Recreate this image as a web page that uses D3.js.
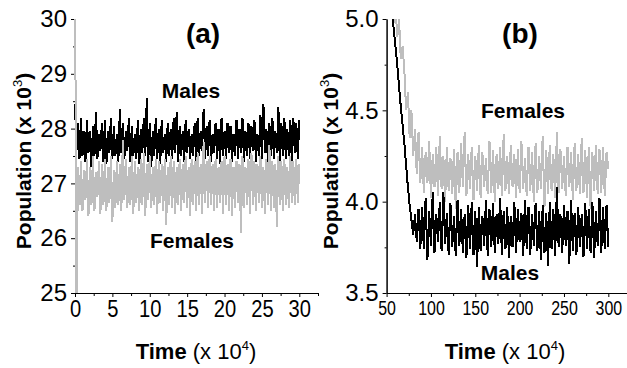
<!DOCTYPE html>
<html>
<head>
<meta charset="utf-8">
<script src="https://cdn.jsdelivr.net/npm/d3@7"></script>
<style>
  body { margin: 0; background: #fff; }
  text { font-family: "Liberation Sans", Arial, sans-serif; }
</style>
</head>
<body>
<div id="chart"></div>
<script>
// panel (a): time 0..30 (x 10^4), one sample every 0.2
var timeA = { start: 0, step: 0.2 };
var malesA = [
  28.45, 27.6, 28.1, 27.45, 28.2, 27.5, 27.95, 27.4, 28.15, 27.55,
  27.95, 27.3, 28.05, 27.5, 28.3, 27.45, 27.9, 27.6, 28.1, 27.4,
  28.15, 27.35, 27.95, 27.55, 28.2, 27.45, 28.05, 27.5, 27.9, 27.4,
  28.35, 27.55, 28.1, 27.45, 27.95, 27.6, 28.2, 27.4, 28.05, 27.5,
  27.9, 27.45, 28.15, 27.35, 28.0, 27.55, 28.2, 27.5, 28.55, 27.4,
  28.1, 27.3, 27.95, 27.5, 28.2, 27.45, 28.0, 27.35, 28.15, 27.55,
  27.9, 27.4, 28.1, 27.5, 28.0, 27.45, 28.2, 27.55, 28.3, 27.4,
  28.05, 27.5, 27.95, 27.4, 28.15, 27.55, 28.0, 27.45, 27.9, 27.5,
  28.1, 27.35, 28.2, 27.5, 27.95, 27.6, 28.35, 27.45, 28.05, 27.5,
  28.15, 27.4, 27.9, 27.55, 28.1, 27.45, 28.0, 27.35, 28.2, 27.5,
  27.95, 27.45, 28.1, 27.55, 28.05, 27.4, 27.9, 27.5, 28.15, 27.45,
  28.0, 27.55, 28.2, 27.4, 27.95, 27.5, 28.1, 27.45, 28.05, 27.6,
  28.15, 27.4, 27.9, 27.5, 28.25, 27.45, 28.45, 27.55, 28.0, 27.4,
  28.1, 27.5, 28.2, 27.45, 27.95, 27.55, 28.4, 27.35, 28.1, 27.5,
  28.2, 27.45, 28.0, 27.5, 28.15, 27.4, 28.2, 27.55, 28.1, 27.45,
  28.15
];
var femalesA = [
  31.0, 24.8, 27.3, 26.6, 27.4, 26.5, 27.25, 26.7, 27.45, 26.4,
  27.3, 26.6, 27.5, 26.5, 27.2, 26.75, 27.4, 26.45, 27.35, 26.6,
  27.45, 26.5, 27.3, 26.65, 27.5, 26.3, 27.25, 26.55, 27.4, 26.6,
  27.35, 26.5, 27.8, 26.7, 27.45, 26.55, 27.3, 26.6, 27.5, 26.45,
  27.4, 26.65, 27.3, 26.5, 27.45, 26.6, 27.55, 26.4, 27.35, 26.7,
  27.5, 26.55, 27.3, 26.6, 27.45, 26.45, 27.4, 26.65, 27.35, 26.5,
  27.45, 26.25, 27.3, 26.6, 27.5, 26.55, 27.4, 26.45, 27.3, 26.6,
  27.45, 26.5, 27.35, 26.65, 27.5, 26.55, 27.3, 26.4, 27.45, 26.6,
  27.4, 26.5, 27.55, 26.6, 27.35, 26.45, 27.75, 26.65, 27.4, 26.55,
  27.5, 26.6, 27.35, 26.5, 27.45, 26.55, 27.3, 26.65, 27.4, 26.45,
  27.5, 26.6, 27.35, 26.5, 27.45, 26.4, 27.3, 26.55, 27.4, 26.65,
  27.35, 26.1, 27.5, 26.55, 27.3, 26.6, 27.45, 26.45, 27.55, 26.6,
  27.4, 26.5, 27.35, 26.65, 27.5, 26.55, 27.3, 26.45, 27.45, 26.6,
  27.7, 26.5, 27.4, 26.55, 27.35, 26.2, 27.5, 26.6, 27.4, 26.5,
  27.45, 26.6, 27.3, 26.55, 27.5, 26.65, 27.4, 26.6, 27.45, 26.65,
  27.35
];

// panel (b): time 50..300 (x 10^4), one sample every 2
var timeB = { start: 50, step: 2 };
var malesB = [
  5.3, 5.2, 5.1, 5.03, 4.95, 4.85, 4.75, 4.63, 4.52, 4.42,
  4.32, 4.2, 4.08, 3.98, 3.9, 3.82, 3.93, 3.78, 3.96, 3.74,
  3.97, 3.74, 4.02, 3.68, 3.95, 3.76, 4.05, 3.72, 3.93, 3.78,
  4.0, 3.73, 4.05, 3.77, 3.94, 3.71, 3.99, 3.75, 3.92, 3.7,
  4.01, 3.76, 3.96, 3.72, 3.93, 3.69, 3.98, 3.74, 4.0, 3.71,
  3.95, 3.64, 3.97, 3.73, 3.92, 3.76, 4.01, 3.7, 3.96, 3.75,
  3.99, 3.72, 3.93, 3.77, 4.02, 3.71, 3.95, 3.74, 3.97, 3.69,
  3.92, 3.75, 4.0, 3.72, 3.96, 3.78, 3.94, 3.7, 4.01, 3.74,
  3.97, 3.71, 3.93, 3.76, 3.99, 3.73, 3.95, 3.68, 3.98, 3.72,
  3.94, 3.65, 4.0, 3.74, 3.96, 3.7, 4.08, 3.75, 3.93, 3.72,
  3.98, 3.76, 3.95, 3.66, 4.01, 3.73, 3.94, 3.71, 3.97, 3.75,
  3.93, 3.7, 3.99, 3.74, 3.96, 3.72, 4.0, 3.69, 3.95, 3.76,
  4.02, 3.72, 3.97, 3.74, 3.98, 3.75
];
var femalesB = [
  5.4, 5.3, 5.2, 5.1, 4.98, 5.08, 4.9, 5.0, 4.78, 4.85,
  4.72, 4.5, 4.6, 4.35, 4.5, 4.25, 4.4, 4.15, 4.38, 4.1,
  4.3, 4.05, 4.27, 4.1, 4.33, 4.02, 4.26, 4.08, 4.3, 4.03,
  4.36, 4.07, 4.25, 4.0, 4.3, 4.06, 4.24, 4.04, 4.29, 3.96,
  4.27, 4.05, 4.32, 4.08, 4.38, 4.03, 4.26, 4.07, 4.3, 4.01,
  4.25, 4.06, 4.31, 4.02, 4.27, 4.08, 4.24, 4.04, 4.33, 4.05,
  4.28, 4.0, 4.26, 4.07, 4.3, 4.03, 4.37, 4.06, 4.25, 4.04,
  4.31, 4.08, 4.26, 4.02, 4.29, 4.05, 4.33, 4.07, 4.24, 4.03,
  4.3, 4.06, 4.27, 4.0, 4.32, 4.05, 4.25, 4.07, 4.36, 3.97,
  4.28, 4.04, 4.31, 4.06, 4.26, 4.02, 4.38, 4.05, 4.29, 4.07,
  4.25, 4.03, 4.3, 4.08, 4.27, 4.01, 4.32, 4.06, 4.26, 4.04,
  4.35, 4.05, 4.28, 4.02, 4.3, 3.96, 4.27, 4.06, 4.31, 4.04,
  4.29, 4.05, 4.3, 4.03, 4.27, 4.18
];

// tick values
var yMajorA = [25, 26, 27, 28, 29, 30];
var yMinorA = [25.5, 26.5, 27.5, 28.5, 29.5];
var xMajorA = [0, 5, 10, 15, 20, 25, 30];
var xMinorA = [2.5, 7.5, 12.5, 17.5, 22.5, 27.5, 32.5];
var yMajorB = [3.5, 4.0, 4.5, 5.0];
var yMinorB = [3.75, 4.25, 4.75];
var xMajorB = [50, 100, 150, 200, 250, 300];
var xMinorB = [75, 125, 175, 225, 275];

var BLACK = "#000", GRAY = "#bebebe";

var svg = d3.select("#chart").append("svg")
  .attr("width", 627)
  .attr("height", 368);

function drawPanel(cfg) {
  var x = d3.scaleLinear().domain(cfg.xDomain).range(cfg.xRange);
  var y = d3.scaleLinear().domain(cfg.yDomain).range([293, 19]);
  var g = svg.append("g");

  // axes first, the data lines are drawn on top of them
  var yAx = g.append("g").attr("transform", "translate(" + cfg.xRange[0] + ",0)")
    .call(d3.axisLeft(y).tickValues(cfg.yMajor).tickFormat(d3.format(cfg.yFormat))
      .tickSize(4).tickSizeOuter(0).tickPadding(4));
  g.append("g").attr("transform", "translate(" + cfg.xRange[0] + ",0)")
    .call(d3.axisLeft(y).tickValues(cfg.yMinor).tickFormat("").tickSize(2).tickSizeOuter(0));
  yAx.selectAll("text").style("font-size", "24px").attr("fill", "#000");

  var xAx = g.append("g").attr("transform", "translate(0,293)")
    .call(d3.axisBottom(x).tickValues(cfg.xMajor).tickSize(4).tickSizeOuter(0).tickPadding(3));
  g.append("g").attr("transform", "translate(0,293)")
    .call(d3.axisBottom(x).tickValues(cfg.xMinor).tickFormat("").tickSize(3).tickSizeOuter(0));
  xAx.selectAll("text").style("font-size", cfg.xFont + "px").attr("fill", "#000")
    .attr("transform", "scale(" + cfg.xSqueeze + ",1)");
  g.selectAll(".domain, .tick line").attr("stroke", "#000").attr("stroke-width", 1);

  var clipId = "clip-" + cfg.id;
  svg.append("clipPath").attr("id", clipId).append("rect")
    .attr("x", cfg.xRange[0] - 1).attr("y", 19)
    .attr("width", cfg.xRange[1] - cfg.xRange[0] + 1).attr("height", 274);

  var line = d3.line()
    .x(function(d) { return x(d[0]); })
    .y(function(d) { return y(d[1]); });

  cfg.series.forEach(function(s) {
    var pts = s.values.map(function(v, i) { return [cfg.time.start + i * cfg.time.step, v]; });
    g.append("path")
      .attr("clip-path", "url(#" + clipId + ")")
      .attr("d", line(pts))
      .attr("fill", "none")
      .attr("stroke", s.color)
      .attr("stroke-width", 2)
      .attr("stroke-linejoin", "bevel")
      .attr("shape-rendering", "crispEdges");
  });

  // y title
  var yt = g.append("text")
    .attr("transform", "translate(" + cfg.yTitleX + ",161) rotate(-90)")
    .attr("text-anchor", "middle")
    .style("font-size", "21px").style("font-weight", "bold");
  yt.append("tspan").text("Population (x 10");
  yt.append("tspan").text("3").style("font-size", "13px").style("font-weight", "normal").attr("dy", -9);
  yt.append("tspan").text(")").attr("dy", 9);

  // x title
  var xt = g.append("text")
    .attr("x", cfg.xTitleX).attr("y", 359)
    .attr("text-anchor", "middle")
    .style("font-size", "22px");
  xt.append("tspan").text("Time").style("font-weight", "bold");
  xt.append("tspan").text(" (x 10");
  xt.append("tspan").text("4").style("font-size", "13px").attr("dy", -9);
  xt.append("tspan").text(")").attr("dy", 9);

  // panel letter
  g.append("text").attr("x", cfg.letterX).attr("y", 43)
    .attr("text-anchor", "middle")
    .style("font-size", "28px").style("font-weight", "bold")
    .text(cfg.letter);

  cfg.labels.forEach(function(l) {
    g.append("text").attr("x", l.x).attr("y", l.y)
      .attr("text-anchor", "middle")
      .style("font-size", "21px").style("font-weight", "bold")
      .text(l.text);
  });
}

drawPanel({
  id: "a",
  xDomain: [0, 32.5], xRange: [75, 318],
  yDomain: [25, 30], yFormat: "d",
  yMajor: yMajorA, yMinor: yMinorA, xMajor: xMajorA, xMinor: xMinorA,
  xFont: 24, xSqueeze: 0.84,
  time: timeA,
  series: [{ values: malesA, color: BLACK }, { values: femalesA, color: GRAY }],
  yTitleX: 31, xTitleX: 196,
  letter: "(a)", letterX: 203,
  labels: [{ text: "Males", x: 191, y: 98 }, { text: "Females", x: 192, y: 248 }]
});

drawPanel({
  id: "b",
  xDomain: [50, 325], xRange: [386.6, 630.5],
  yDomain: [3.5, 5.0], yFormat: ".1f",
  yMajor: yMajorB, yMinor: yMinorB, xMajor: xMajorB, xMinor: xMinorB,
  xFont: 21, xSqueeze: 0.76,
  time: timeB,
  series: [{ values: femalesB, color: GRAY }, { values: malesB, color: BLACK }],
  yTitleX: 338, xTitleX: 505,
  letter: "(b)", letterX: 520,
  labels: [{ text: "Females", x: 523, y: 118 }, { text: "Males", x: 510, y: 280 }]
});
</script>
</body>
</html>
